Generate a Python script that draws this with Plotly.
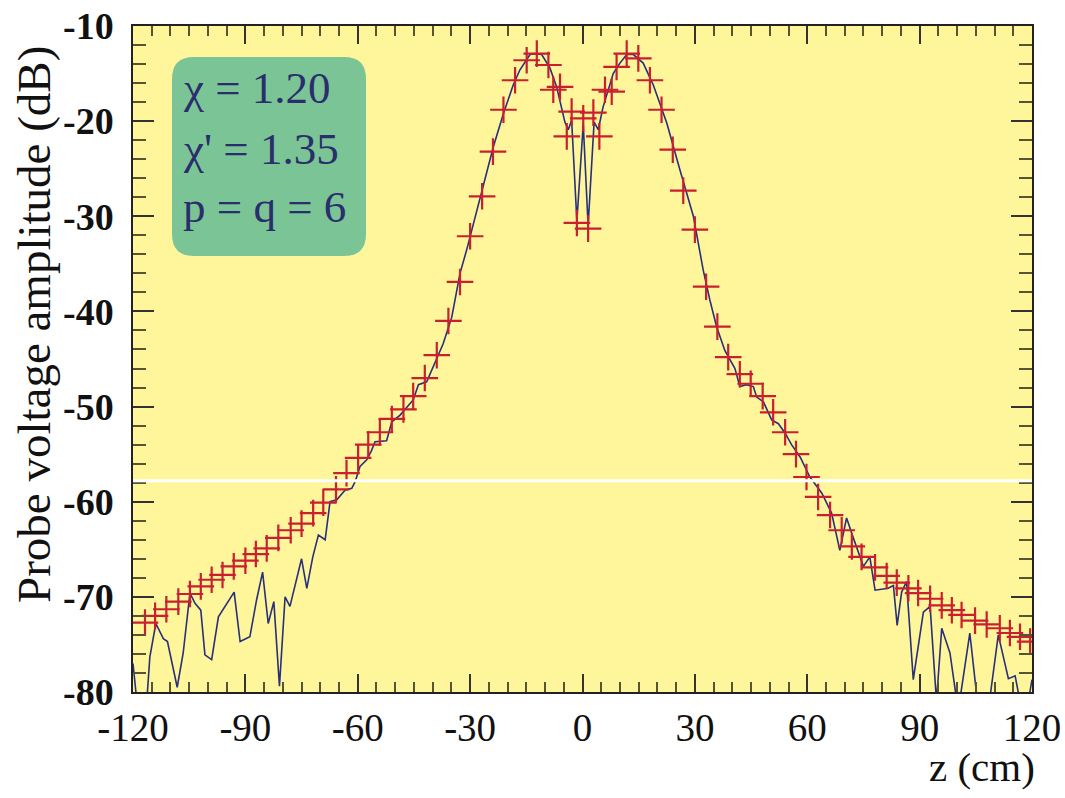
import plotly.graph_objects as go

# Measured points (red crosses)
meas_z = [-116.8, -114.1, -111.1, -107.9, -104.8, -101.9, -99.0, -96.1, -93.1, -90.0,
          -87.2, -84.3, -81.2, -77.9, -75.0, -71.9, -69.2, -65.8, -63.0, -59.9,
          -57.2, -54.1, -50.9, -47.8, -45.2, -42.1, -38.9, -35.8, -32.7, -30.0,
          -26.8, -23.9, -21.1, -18.0, -14.9, -12.2, -9.1, -7.8, -6.0, -4.2,
          -2.9, -1.5, 0.2, 1.5, 2.9, 4.5, 6.0, 7.8, 9.1, 11.8,
          14.9, 18.0, 21.1, 24.1, 26.9, 30.0, 33.0, 36.0, 38.9, 42.0,
          44.9, 48.1, 50.9, 54.1, 57.0, 59.8, 62.9, 66.1, 69.2, 71.9,
          74.5, 78.1, 81.2, 83.9, 87.0, 89.6, 92.8, 95.9, 98.6, 101.2,
          104.8, 107.9, 111.4, 114.1, 116.8, 119.5]
meas_db = [-72.7, -72.0, -71.3, -70.5, -69.7, -68.9, -68.2, -67.7, -66.8, -66.2,
           -65.5, -64.9, -63.8, -63.0, -62.3, -61.2, -60.1, -58.7, -57.0, -55.4,
           -54.0, -52.7, -51.3, -50.3, -48.9, -47.0, -44.6, -41.0, -36.9, -32.1,
           -27.9, -23.2, -18.8, -15.7, -13.6, -12.9, -14.1, -16.7, -16.4, -21.6,
           -19.0, -30.7, -19.7, -31.3, -19.1, -21.6, -16.7, -16.9, -14.3, -12.9,
           -13.4, -15.7, -18.8, -23.0, -27.3, -31.4, -37.4, -41.6, -44.8, -46.6,
           -47.6, -48.9, -50.6, -52.7, -55.0, -57.4, -59.5, -61.4, -63.0, -64.7,
           -65.8, -66.9, -67.8, -68.5, -69.1, -69.6, -70.2, -70.9, -71.4, -71.9,
           -72.5, -72.9, -73.3, -73.8, -74.2, -74.7]

# Simulated curve (blue line)
sim_z = [-120.0, -118.7, -116.5, -115.5, -113.9, -112.8, -111.9, -110.8, -109.7, -108.2,
         -106.6, -104.8, -103.4, -101.9, -100.8, -99.0, -97.2, -95.0, -93.0, -91.4,
         -88.8, -87.0, -85.4, -83.9, -82.4, -80.9, -79.4, -78.1, -75.0, -73.6,
         -72.0, -70.5, -68.7, -67.4, -65.6, -63.4, -61.6, -60.7, -59.4, -57.6,
         -56.3, -55.4, -52.3, -50.9, -48.7, -45.2, -43.8, -41.6, -39.8, -37.2,
         -34.9, -33.6, -32.7, -30.9, -27.4, -23.8, -21.1, -18.5, -16.7, -14.0,
         -12.7, -10.9, -8.7, -6.9, -4.7, -3.8, -2.9, -1.5, 0.2, 1.5,
         3.1, 4.2, 5.5, 7.1, 8.2, 10.0, 11.8, 13.6, 16.2, 18.9,
         22.5, 26.0, 29.6, 32.2, 34.0, 35.8, 38.0, 40.7, 42.0, 43.8,
         45.6, 46.5, 48.3, 50.5, 52.3, 54.1, 55.8, 58.1, 60.7, 63.9,
         66.5, 68.7, 70.5, 72.3, 75.0, 76.7, 78.1, 81.6, 83.0, 84.0,
         85.2, 86.5, 88.3, 91.0, 92.8, 94.5, 95.9, 98.1, 100.3, 103.4,
         105.7, 108.3, 111.0, 113.7, 115.5, 116.8, 119.0, 120.0]
sim_db = [-77.0, -82.0, -82.0, -76.3, -72.8, -73.7, -74.4, -74.7, -76.6, -79.5,
          -75.9, -69.6, -70.7, -71.4, -76.1, -76.6, -72.1, -70.7, -69.5, -74.7,
          -74.2, -70.3, -67.4, -72.8, -70.5, -79.4, -70.0, -71.0, -66.0, -69.1,
          -65.8, -63.5, -64.0, -60.0, -59.8, -58.8, -58.6, -57.9, -56.3, -55.6,
          -54.6, -53.7, -53.6, -51.6, -50.9, -49.3, -47.7, -47.4, -45.8, -43.4,
          -40.6, -38.1, -36.0, -33.5, -28.3, -22.7, -19.2, -16.2, -14.6, -13.0,
          -12.9, -13.0, -14.4, -16.4, -20.1, -20.9, -19.9, -30.5, -20.3, -31.0,
          -20.1, -20.9, -18.5, -16.5, -15.0, -13.9, -13.0, -13.0, -13.9, -16.2,
          -20.2, -25.1, -30.0, -35.6, -38.8, -41.6, -44.1, -46.0, -47.9, -47.7,
          -47.9, -49.0, -49.5, -51.4, -51.8, -52.8, -54.0, -55.3, -57.4, -59.1,
          -61.2, -65.1, -61.7, -63.8, -66.8, -65.8, -69.3, -69.1, -68.8, -73.0,
          -69.5, -68.4, -78.7, -71.6, -71.0, -81.0, -73.3, -75.9, -82.0, -73.8,
          -82.0, -82.0, -74.0, -78.6, -78.3, -81.0, -81.0, -78.7]

ref_level = -57.8
legend_lines = ["χ = 1.20", "χ' = 1.35", "p = q = 6"]
x_ticks = [-120, -90, -60, -30, 0, 30, 60, 90, 120]
x_labels = ["-120", "-90", "-60", "-30", "0", "30", "60", "90", "120"]
y_ticks = [-80, -70, -60, -50, -40, -30, -20, -10]
y_labels = ["-80", "-70", "-60", "-50", "-40", "-30", "-20", "-10"]

W, H = 1065, 798
L, R, T, B = 133, 33, 26, 106
pw, ph = W - L - R, H - T - B


def px(xp):
    return (xp - L) / pw


def py(yp):
    return (H - B - yp) / ph


fig = go.Figure()

fig.add_trace(go.Scatter(x=sim_z, y=sim_db, mode="lines",
                         line=dict(color="#27307A", width=1.6),
                         showlegend=False, hoverinfo="skip"))
fig.add_trace(go.Scatter(x=meas_z, y=meas_db, mode="markers",
                         marker=dict(symbol="cross-thin", size=19,
                                     line=dict(color="#C8202E", width=2.2)),
                         showlegend=False))

# white reference line
fig.add_shape(type="line", xref="paper", x0=0, x1=1, yref="y",
              y0=ref_level, y1=ref_level, line=dict(color="white", width=3),
              layer="above")

# rounded green box
x0, x1 = px(172), px(366)
y0, y1 = py(256), py(57)
rx, ry = 22 / pw, 22 / ph
path = (f"M {x0+rx},{y0} L {x1-rx},{y0} Q {x1},{y0} {x1},{y0+ry} "
        f"L {x1},{y1-ry} Q {x1},{y1} {x1-rx},{y1} L {x0+rx},{y1} "
        f"Q {x0},{y1} {x0},{y1-ry} L {x0},{y0+ry} Q {x0},{y0} {x0+rx},{y0} Z")
fig.add_shape(type="path", path=path, xref="paper", yref="paper",
              fillcolor="#7AC496", line=dict(width=0), layer="above")

for txt, yc in zip(legend_lines, [88, 149, 207]):
    fig.add_annotation(text=txt, xref="paper", yref="paper", x=px(181), y=py(yc),
                       xanchor="left", yanchor="middle", showarrow=False,
                       font=dict(family="Liberation Serif", size=45, color="#2A2E6C"))

fig.add_annotation(text="Probe voltage amplitude (dB)", xref="paper", yref="paper",
                   x=px(34), y=py(325), textangle=-90, xanchor="center",
                   yanchor="middle", showarrow=False,
                   font=dict(family="Liberation Serif", size=47, color="#111111"))
fig.add_annotation(text="z (cm)", xref="paper", yref="paper",
                   x=px(1037), y=py(767), xanchor="right", yanchor="middle",
                   showarrow=False,
                   font=dict(family="Liberation Serif", size=41, color="#111111"))

axis_common = dict(showgrid=False, zeroline=False, showline=True, linecolor="#222222",
                   linewidth=1.5, mirror="allticks", ticks="inside", tickcolor="#333333",
                   tickwidth=1.5, automargin=False, ticklabeloverflow="allow")

fig.update_xaxes(range=[-120, 120], tickvals=x_ticks, ticktext=x_labels, ticklen=18,
                 minor=dict(dtick=5, ticklen=10, ticks="inside", tickcolor="#555533",
                            tickwidth=1.5),
                 tickfont=dict(family="Liberation Serif", size=39, color="#111111"),
                 ticklabelstandoff=0, **axis_common)
fig.update_yaxes(range=[-80, -10], tickvals=y_ticks, ticktext=y_labels, ticklen=21,
                 minor=dict(dtick=2, ticklen=13, ticks="inside", tickcolor="#555533",
                            tickwidth=1.5),
                 tickfont=dict(family="Liberation Serif", size=38, color="#111111",
                               weight="bold"),
                 ticklabelstandoff=10, **axis_common)

fig.update_layout(width=W, height=H, margin=dict(l=L, r=R, t=T, b=B),
                  paper_bgcolor="white", plot_bgcolor="#FFF59B")

fig.write_html("out.html", config={"displayModeBar": False},
               post_script="document.body.style.margin='0';document.body.style.overflow='hidden';")
